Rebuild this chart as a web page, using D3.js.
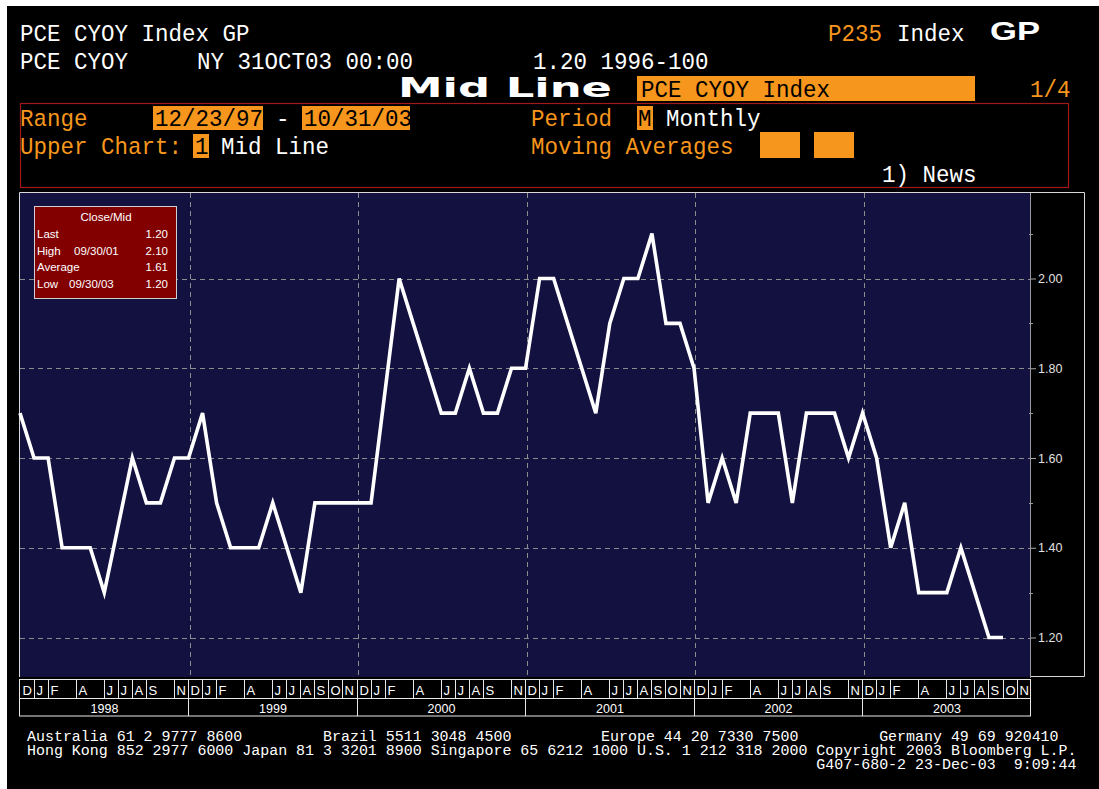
<!DOCTYPE html>
<html><head><meta charset="utf-8">
<script src="https://cdn.jsdelivr.net/npm/d3@7"></script>
<style>html,body{margin:0;padding:0;background:#fff}svg{display:block}</style>
</head><body>
<script>
// ---------- DATA ----------
const startMonth = "1997-12";           // first data point (month end)
const values = [1.70,1.60,1.60,1.40,1.40,1.40,1.30,1.45,1.60,1.50,
                1.50,1.60,1.60,1.70,1.50,1.40,1.40,1.40,1.50,1.40,
                1.30,1.50,1.50,1.50,1.50,1.50,1.75,2.00,1.90,1.80,
                1.70,1.70,1.80,1.70,1.70,1.80,1.80,2.00,2.00,1.90,
                1.80,1.70,1.90,2.00,2.00,2.10,1.90,1.90,1.80,1.50,
                1.60,1.50,1.70,1.70,1.70,1.50,1.70,1.70,1.70,1.60,
                1.70,1.60,1.40,1.50,1.30,1.30,1.30,1.40,1.30,1.20,1.20];
const yTicks = [1.2,1.4,1.6,1.8,2.0];
const yMinorTicks = [1.3,1.5,1.7,1.9,2.1];
const yearLabels = ["1998","1999","2000","2001","2002","2003"];
const monthLabels = [
 "D","J","F","","A","","J","J","A","S","","N",
 "D","J","F","","A","","J","J","A","S","O","N",
 "D","J","F","","A","","J","J","A","S","","N",
 "D","J","F","","A","","J","J","A","S","O","N",
 "D","J","F","","A","","J","J","A","S","","N",
 "D","J","F","","A","","J","J","A","S","O","N"];
const legendRows = [["Last","","1.20"],["High","09/30/01","2.10"],["Average","","1.61"],["Low","09/30/03","1.20"]];

// ---------- SETUP ----------
const W=1099,H=789;
const ORANGE="#f7961c", BLUE="#12113f", GRID="#8c8c8c";
const svg=d3.select("body").append("svg").attr("width",W).attr("height",H);
svg.append("rect").attr("x",0).attr("y",0).attr("width",W).attr("height",H).attr("fill","#fff");
svg.append("rect").attr("x",7).attr("y",6).attr("width",W-7).attr("height",H-6).attr("fill","#000");

const MONO="'Liberation Mono','DejaVu Sans Mono',monospace";
function t(x,y,str,o={}){
  const g=svg.append("g").attr("transform",`translate(${x},${y}) scale(1,${o.sy||1})`);
  const el=g.append("text").attr("x",0).attr("y",0).text(str)
    .attr("fill",o.fill||"#fff")
    .attr("font-family",o.family||MONO)
    .attr("font-size",o.size||22)
    .attr("font-weight",o.weight||"normal")
    .attr("text-anchor",o.anchor||"start")
    .style("white-space","pre");
  const len = o.len!==undefined ? o.len : (o.adv ? str.length*o.adv : null);
  if(len) el.attr("textLength",len).attr("lengthAdjust","spacingAndGlyphs");
  return el;
}
const ADV=13.5;
function h(x,y,str,fill){ return t(x,y,str,{fill:fill||"#fff",size:22.5,adv:ADV,sy:1.06}); }
function box(x,y,w,hh,fill){ svg.append("rect").attr("x",x).attr("y",y).attr("width",w).attr("height",hh).attr("fill",fill||ORANGE); }

// ---------- HEADER ----------
h(20,41,"PCE CYOY Index GP");
h(828,41,"P235",ORANGE);
h(897,41,"Index");
t(990,40,"GP",{family:"'Liberation Sans',Arial,sans-serif",weight:"bold",size:26,len:50});
h(20,69,"PCE CYOY");
h(197,69,"NY 31OCT03 00:00");
h(533,69,"1.20 1996-100");
t(398,97,"Mid Line",{family:"'DejaVu Sans',sans-serif",weight:"bold",size:26,len:214});
box(637,76,338,25);
h(641,97,"PCE CYOY Index","#000");
h(1030,97,"1/4",ORANGE);
svg.append("rect").attr("x",20.5).attr("y",103.5).attr("width",1048).attr("height",84)
  .attr("fill","none").attr("stroke","#a01a1a").attr("stroke-width",1.2);
h(20,126,"Range",ORANGE);
box(153,106,110,24); h(155,126,"12/23/97","#000");
h(276,126,"-");
box(302,106,108,24); h(304,126,"10/31/03","#000");
h(531,126,"Period",ORANGE);
box(637,106,16,24); h(638,126,"M","#000");
h(666,126,"Monthly");
h(20,154,"Upper Chart:",ORANGE);
box(193,134,16,24); h(195,154,"1","#000");
h(221,154,"Mid Line");
h(531,154,"Moving Averages",ORANGE);
box(760,132,40,26); box(814,132,40,26);
h(882,182,"1) News");

// ---------- CHART ----------
const PL=20, PR=1030, PT=193, PB=677;
const x=d3.scaleLinear().domain([0,values.length-1]).range([20,1003]);
const y=d3.scaleLinear().domain([1.2,2.0]).range([637.5,278.5]);

svg.append("rect").attr("x",PL).attr("y",PT).attr("width",PR-PL).attr("height",PB-PT).attr("fill",BLUE);
svg.append("path").attr("d",`M${PL-0.5},${PB} V${PT-0.5} H1084.5 V676.5 H${PR}`)
  .attr("fill","none").attr("stroke","#d8d8d8").attr("stroke-width",1);

svg.append("g").selectAll("line").data(yTicks).join("line")
  .attr("x1",PL).attr("x2",PR).attr("y1",d=>Math.round(y(d))+0.5).attr("y2",d=>Math.round(y(d))+0.5)
  .attr("stroke",GRID).attr("stroke-dasharray","5,4").attr("stroke-width",1);
const yearIdx=d3.range(1,yearLabels.length).map(k=>k*12);
svg.append("g").selectAll("line").data(yearIdx).join("line")
  .attr("x1",d=>Math.round(x(d))+1.5).attr("x2",d=>Math.round(x(d))+1.5).attr("y1",PT).attr("y2",PB)
  .attr("stroke",GRID).attr("stroke-dasharray","5,4").attr("stroke-width",1);

const axis=d3.axisRight(y).tickValues(yTicks).tickFormat(d3.format(".2f")).tickSize(6).tickPadding(2);
const ga=svg.append("g").attr("transform",`translate(${PR},0)`).call(axis);
ga.select(".domain").remove();
ga.selectAll(".tick line").attr("stroke","#aaa");
ga.selectAll(".tick text").attr("fill","#e0e0e0").attr("font-family","'Liberation Sans',Arial,sans-serif").attr("font-size",12.5);
svg.append("line").attr("x1",PR+0.5).attr("x2",PR+0.5).attr("y1",PT).attr("y2",PB+1).attr("stroke","#9a9a9a");
svg.append("g").selectAll("line").data(yMinorTicks).join("line")
  .attr("x1",PR-1).attr("x2",PR+3).attr("y1",d=>Math.round(y(d))+0.5).attr("y2",d=>Math.round(y(d))+0.5)
  .attr("stroke","#9a9a9a");

svg.append("path").datum(values)
  .attr("d",d3.line().x((d,i)=>x(i)).y(d=>y(d)))
  .attr("fill","none").attr("stroke","#fff").attr("stroke-width",3.6).attr("stroke-linejoin","miter");

// legend box
svg.append("rect").attr("x",34.5).attr("y",206.5).attr("width",142).attr("height",92)
  .attr("fill","#820000").attr("stroke","#d0d0d0").attr("stroke-width",1);
const LF="'Liberation Sans',Arial,sans-serif";
t(106,221,"Close/Mid",{family:LF,size:11.5,anchor:"middle"});
legendRows.forEach((r,i)=>{
  const yy=238+i*16.5;
  t(37,yy,r[0],{family:LF,size:11.5});
  if(r[1]) t(i===1?74:69,yy,r[1],{family:LF,size:11.5});
  t(168,yy,r[2],{family:LF,size:11.5,anchor:"end"});
});

// ---------- X AXIS (month / year rows) ----------
const MR1=679, MR2=698, MR3=716;
const cellL=i=>Math.round(x(i)-0.5)-0.5;
svg.append("rect").attr("x",19.5).attr("y",MR1+0.5).attr("width",PR-19).attr("height",MR3-MR1-0.5)
  .attr("fill","#000").attr("stroke","#e8e8e8");
svg.append("line").attr("x1",19.5).attr("x2",PR+0.5).attr("y1",MR2+0.5).attr("y2",MR2+0.5).attr("stroke","#e8e8e8");
const shown=monthLabels.map((m,i)=>({m,i})).filter(d=>d.m!=="");
svg.append("g").selectAll("line").data(shown.filter(d=>d.i>0)).join("line")
  .attr("x1",d=>cellL(d.i)+1).attr("x2",d=>cellL(d.i)+1).attr("y1",MR1).attr("y2",MR2)
  .attr("stroke","#e8e8e8");
svg.append("g").selectAll("text").data(shown).join("text")
  .attr("x",d=>cellL(d.i)+3).attr("y",MR2-3).text(d=>d.m)
  .attr("fill","#fff").attr("font-family",LF).attr("font-size",13);
svg.append("g").selectAll("line").data(yearIdx).join("line")
  .attr("x1",d=>cellL(d)+1).attr("x2",d=>cellL(d)+1).attr("y1",MR2).attr("y2",MR3)
  .attr("stroke","#e8e8e8");
svg.append("g").selectAll("text").data(yearLabels).join("text")
  .attr("x",(d,k)=>(cellL(k*12)+cellL((k+1)*12))/2+1).attr("y",MR3-3).text(d=>d)
  .attr("text-anchor","middle").attr("fill","#fff").attr("font-family",LF).attr("font-size",12.5);

// ---------- FOOTER ----------
const FA=8.97;
const f1="Australia 61 2 9777 8600         Brazil 5511 3048 4500          Europe 44 20 7330 7500         Germany 49 69 920410";
const f2="Hong Kong 852 2977 6000 Japan 81 3 3201 8900 Singapore 65 6212 1000 U.S. 1 212 318 2000 Copyright 2003 Bloomberg L.P.";
const f3="G407-680-2 23-Dec-03  9:09:44";
t(27,741,f1,{size:14.5,adv:FA});
t(27,755,f2,{size:14.5,adv:FA});
t(27+88*FA,769,f3,{size:14.5,adv:FA});
</script>
</body></html>
